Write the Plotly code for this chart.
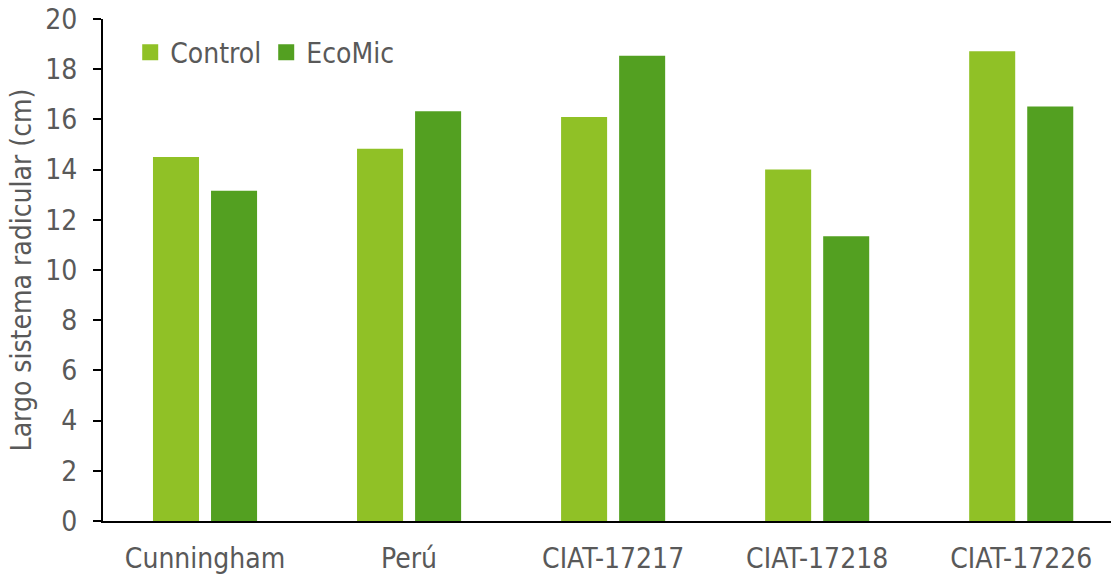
import plotly.graph_objects as go

# Root system length by variety, with and without the EcoMic inoculant
categories = ["Cunningham", "Perú", "CIAT-17217", "CIAT-17218", "CIAT-17226"]
control = [14.5, 14.83, 16.1, 14.0, 18.72]
ecomic = [13.16, 16.32, 18.54, 11.34, 16.51]

y_ticks = [0, 2, 4, 6, 8, 10, 12, 14, 16, 18, 20]

FONT = "DejaVu Sans Condensed"
TEXT = "#595959"
SIZE = 28
COLORS = {"Control": "#90C126", "EcoMic": "#53A021"}

fig = go.Figure()
for name, values in (("Control", control), ("EcoMic", ecomic)):
    fig.add_trace(go.Bar(name=name, x=categories, y=values, showlegend=False,
                         marker=dict(color=COLORS[name], line=dict(width=0))))
    # legend entry with a larger square key
    fig.add_trace(go.Scatter(name=name, x=[None], y=[None], mode="markers",
                             marker=dict(symbol="square", size=16, color=COLORS[name]),
                             showlegend=True))

fig.update_layout(
    width=1111, height=575,
    margin=dict(l=103, r=0, t=19, b=54),
    paper_bgcolor="white", plot_bgcolor="white",
    barmode="group", bargap=0.431, bargroupgap=0.207,
    font=dict(family=FONT, size=SIZE, color=TEXT),
    legend=dict(orientation="h", x=0.027, y=0.983, xanchor="left", yanchor="top",
                font=dict(size=SIZE, color=TEXT), bgcolor="rgba(0,0,0,0)",
                itemwidth=30, tracegroupgap=0),
)
fig.update_xaxes(
    range=[-0.5, 4.44], showline=True, linecolor="black", linewidth=1.5,
    ticks="", showgrid=False, ticklabelstandoff=12,
    tickfont=dict(size=SIZE, color=TEXT),
)
fig.update_yaxes(
    range=[0, 20], tickvals=y_ticks, showline=True, linecolor="black", linewidth=2,
    ticks="outside", ticklen=8, tickwidth=2, tickcolor="black", showgrid=False,
    zeroline=False, ticklabelstandoff=10,
    tickfont=dict(size=SIZE, color=TEXT),
    title=dict(text="Largo sistema radicular (cm)", font=dict(size=SIZE, color=TEXT), standoff=6),
)

fig.write_html("out.html")
